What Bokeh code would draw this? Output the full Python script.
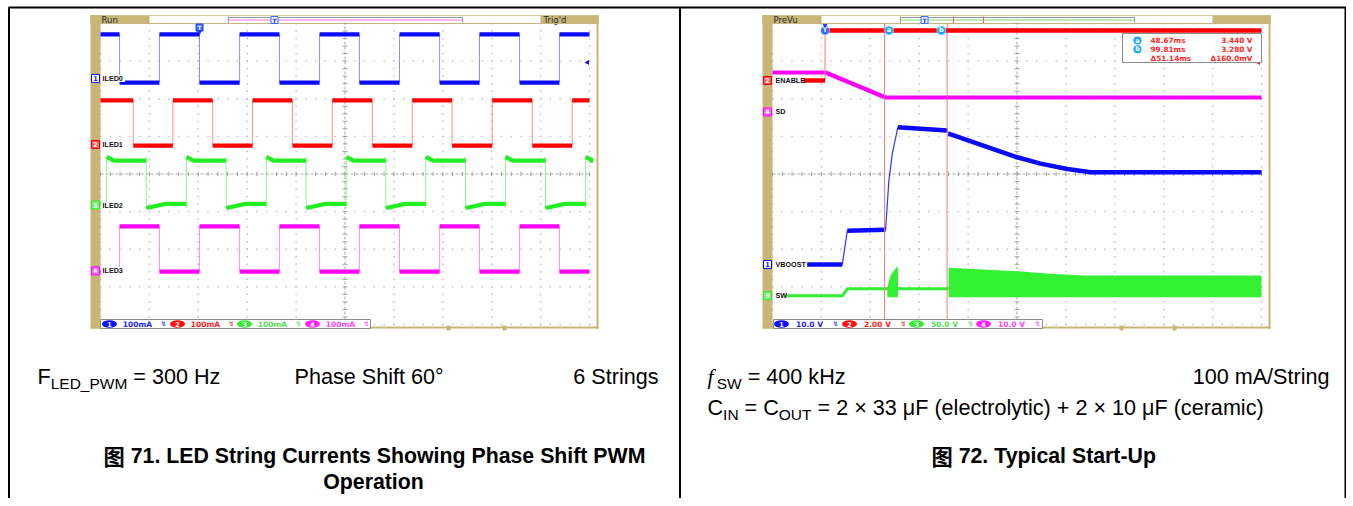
import math
from bokeh.plotting import figure
from bokeh.models import Range1d
from bokeh.embed import file_html
from bokeh.resources import INLINE
from bokeh.core.properties import value

# ===================== DATA =====================
# Fig. 71 - LED string currents, 2 ms/div, 100 mA/div, time in ms from left screen edge
t71_window = [0.0, 20.0]
iled_names = ["ILED0", "ILED1", "ILED2", "ILED3"]
iled0_edges = [0.78, 2.41, 4.05, 5.69, 7.32, 8.96, 10.59, 12.23, 13.87, 15.50, 17.14, 18.77]
iled1_edges = [1.34, 2.96, 4.59, 6.22, 7.85, 9.48, 11.12, 12.75, 14.38, 16.02, 17.66, 19.29]
iled2_edges = [0.25, 1.87, 3.51, 5.14, 6.78, 8.41, 10.05, 11.67, 13.30, 14.93, 16.56, 18.20, 19.84]
iled3_edges = [0.78, 2.41, 4.05, 5.69, 7.32, 8.96, 10.59, 12.23, 13.87, 15.50, 17.14, 18.77]
iled_edges = [iled0_edges, iled1_edges, iled2_edges, iled3_edges]
iled_starts_high = [True, True, False, False]
iled_high_ma = [117, 117, 118, 118]
iled_low_ma = [-11, -3, 3, -2]
iled_high_peak_ma = [117, 117, 128, 118]
iled_low_dip_ma = [-11, -3, -8, -2]
iled_high_settle_ms = [0.0, 0.0, 0.3, 0.0]
iled_low_settle_ms = [0.0, 0.0, 0.8, 0.0]
iled_offset_div = [2.54, 0.785, -0.824, -2.574]
iled_ma_per_div = [100, 100, 100, 100]
trigger71_ms = 4.05

# Fig. 72 - typical start-up, 40 ms/div, time in ms from trigger
t72_window = [-43.0, 357.0]
ch72_names = ["VBOOST", "ENABLE", "SW", "SD"]
ch72_volts_per_div = [10.0, 2.0, 50.0, 10.0]
ch72_offset_div = [-2.405, 2.485, -3.237, 1.648]
vboost_t = [-14.6, 14.1, 18.2, 49.5, 50.3, 52.2, 55.0, 59.6, 100.0, 101.0, 157.2, 176.3, 198.1, 217.2, 357.0]
vboost_v = [0.0, 0.0, 9.0, 9.2, 13.0, 22.3, 29.5, 36.5, 35.6, 34.8, 28.5, 26.8, 25.4, 24.5, 24.5]
enable_t = [-17.6, 0.0, 0.0, 357.0]
enable_v = [0.0, 0.0, 2.66, 2.66]
sw_t = [-32.3, 14.1, 18.2, 101.0]
sw_v = [0.0, 0.0, 9.3, 9.3]
sw_burst_t = [50.9, 53.6, 56.3, 59.6]
sw_burst_top = [11.4, 27.0, 33.6, 39.3]
sw_run_t = [101.0, 157.2, 184.4, 211.4, 357.0]
sw_run_top = [37.2, 32.7, 29.2, 27.0, 27.0]
sw_floor_v = -1.9
sd_t = [-43.0, 0.4, 49.5, 357.0]
sd_v = [10.5, 10.5, 3.85, 3.85]
cursor_ms = [48.67, 99.81]
cursor_v = [3.440, 3.280]

# captions
fig71_notes = ["Phase Shift 60°", "6 Strings"]
fig71_caption = ["图", " 71. LED String Currents Showing Phase Shift PWM", "Operation"]
fig72_notes = ["100 mA/String"]
fig72_caption = ["图", " 72. Typical Start-Up"]

# ===================== FIGURE =====================
W, H = 1346, 498
FX0, FX1, FY0, FY1 = 0, W, 0, H

p = figure(width=W, height=H, x_range=Range1d(FX0, FX1), y_range=Range1d(FY1, FY0),
           output_backend="svg", toolbar_location=None,
           x_axis_location=None, y_axis_location=None, min_border=0,
           outline_line_color=None, background_fill_color="white",
           border_fill_color="white")
p.xgrid.visible = False
p.ygrid.visible = False


def frame_range(g_lo, g_hi, v_lo, v_hi, f_lo, f_hi):
    k = (v_hi - v_lo) / (g_hi - g_lo)
    return Range1d(v_lo + (f_lo - g_lo) * k, v_lo + (f_hi - g_lo) * k)


SC = {"s71": dict(gx0=100, gx1=589, gy0=23, gy1=324),
      "s72": dict(gx0=772, gx1=1261, gy0=23, gy1=324)}
xr, yr = {}, {}
for nm, s in SC.items():
    xr[nm + "_dx"] = frame_range(s["gx0"], s["gx1"], 0, 10, FX0, FX1)
    yr[nm + "_dy"] = frame_range(s["gy1"], s["gy0"], -4, 4, FY1, FY0)
s1, s2 = SC["s71"], SC["s72"]
xr["t71"] = frame_range(s1["gx0"], s1["gx1"], t71_window[0], t71_window[1], FX0, FX1)
xr["t72"] = frame_range(s2["gx0"], s2["gx1"], t72_window[0], t72_window[1], FX0, FX1)
for i in range(4):
    off, k = iled_offset_div[i], iled_ma_per_div[i]
    yr[f"c71_{i}"] = frame_range(s1["gy1"], s1["gy0"], (-4 - off) * k, (4 - off) * k, FY1, FY0)
    off, k = ch72_offset_div[i], ch72_volts_per_div[i]
    yr[f"c72_{i}"] = frame_range(s2["gy1"], s2["gy0"], (-4 - off) * k, (4 - off) * k, FY1, FY0)
p.extra_x_ranges = xr
p.extra_y_ranges = yr


def rn(xn=None, yn=None):
    kw = {}
    if xn:
        kw["x_range_name"] = xn
    if yn:
        kw["y_range_name"] = yn
    return kw


def txt(x, y, s, size, color="black", align="left", baseline="middle",
        font="Liberation Sans", style="normal", xn=None, yn=None):
    p.text(x=[x], y=[y], text=[s], text_font=value(font), text_font_size=f"{size}px",
           text_font_style=style, text_color=color, text_align=align,
           text_baseline=baseline, **rn(xn, yn))


TAN = "#c9b676"
BLUE, RED, GREEN, MAG = "#0a0aff", "#ff0000", "#22ee22", "#ff00ff"
TRACE = [BLUE, RED, GREEN, MAG]
THIN = ["#8c8cff", "#ff8c8c", "#8cf58c", "#ff8cff"]
LIGHT = ["#2222ff", "#ff2222", "#55dd55", "#ff44ff"]

# ---------- outer table frame ----------
p.segment(x0=[8, 8.5, 679.5, W - 1], y0=[7, 7, 7, 7],
          x1=[W, 8.5, 679.5, W - 1], y1=[7, H, H, H],
          line_color="black", line_width=2)


# ---------- scope chrome ----------
def scope_chrome(nm, left_lab, right_lab, rec0, rec1, rec_color):
    s = SC[nm]
    gx0, gx1, gy0, gy1 = s["gx0"], s["gx1"], s["gy0"], s["gy1"]
    p.quad(left=gx0 - 10, right=gx1 + 9, top=15, bottom=23, fill_color="white",
           line_color="#d8cfa8", line_width=1)
    p.quad(left=[gx0 - 10, gx1 - 49], right=[gx0 + 49, gx1 + 9], top=15, bottom=23,
           fill_color=TAN, line_color=None)
    txt(gx0 + 1, 19.5, left_lab, 8.5, color="#2a2a2a", font="DejaVu Sans")
    txt(gx1 - 46, 19.5, right_lab, 8.5, color="#2a2a2a", font="DejaVu Sans")
    p.segment(x0=[rec0, rec0, rec1], y0=[17, 16, 16], x1=[rec1, rec0, rec1], y1=[17, 23, 23],
              line_color="#9a9a9a", line_width=1)
    p.segment(x0=[rec0], y0=[19.5], x1=[rec1], y1=[19.5], line_color=rec_color, line_width=1.5)
    p.quad(left=gx0 - 10, right=gx0, top=15, bottom=gy1 + 4, fill_color=TAN, line_color=None)
    p.quad(left=gx1 + 7, right=gx1 + 9, top=15, bottom=gy1 + 4, fill_color=TAN, line_color=None)
    p.quad(left=gx0 - 10, right=gx1 + 9, top=gy1 + 2, bottom=gy1 + 4, fill_color=TAN, line_color=None)
    p.segment(x0=[gx0], y0=[gy0], x1=[gx1 + 7], y1=[gy0], line_color=TAN, line_width=1)
    xs, ys = [], []
    for i in range(11):
        if i == 5:
            continue
        for j in range(41):
            xs.append(i)
            ys.append(-4 + j * 0.2)
    for j in range(9):
        if j == 4:
            continue
        for i in range(51):
            xs.append(i * 0.2)
            ys.append(j - 4)
    p.scatter(xs, ys, marker="square", size=1.4, fill_color="#b9b9b9", line_color=None,
              **rn(nm + "_dx", nm + "_dy"))
    p.segment(x0=[0, 5], y0=[0, -4], x1=[10, 5], y1=[0, 4], line_color="#a8a8a8",
              line_width=1, line_dash="3 2", **rn(nm + "_dx", nm + "_dy"))
    hx = [i * 0.2 for i in range(51)]
    vy = [-4 + j * 0.2 for j in range(41)]
    p.segment(x0=hx, y0=[-0.06] * len(hx), x1=hx, y1=[0.06] * len(hx), line_color="#a0a0a0",
              line_width=1, **rn(nm + "_dx", nm + "_dy"))
    p.segment(x0=[4.95] * len(vy), y0=vy, x1=[5.05] * len(vy), y1=vy, line_color="#a0a0a0",
              line_width=1, **rn(nm + "_dx", nm + "_dy"))


scope_chrome("s71", "Run", "Trig'd", 228, 462, "#f2a2f2")
scope_chrome("s72", "PreVu", "", 900, 1134, "#a6e6a6")
p.quad(left=[446, 502, 1119, 1172], right=[450, 506, 1123, 1176], top=325, bottom=330,
       fill_color=TAN, line_color=None)


def ch_marker(x, i, yn, name, lab_x):
    fills = ["#ffffff", "#ff5a5a", "#7cf07c", "#ff5cff"]
    tcol = [BLUE, "white", "white", "white"]
    lw = 4.6 * len(name)
    p.rect(x=[lab_x - 1 + lw / 2], y=[0], width=lw + 1, height=7, height_units="screen",
           fill_color="white", line_color=None, **rn(None, yn))
    p.scatter(x=[x], y=[0], marker="square", size=8, fill_color=fills[i], line_color=TRACE[i],
              line_width=1, **rn(None, yn))
    txt(x, 0, str(i + 1), 6.5, color=tcol[i], align="center",
        font="DejaVu Sans", style="bold", yn=yn)
    txt(lab_x, 0, name, 7.2, color="#111111", style="bold", yn=yn)


# ---------- Fig. 71 traces ----------
for i in range(4):
    edges = iled_edges[i]
    bounds = [t71_window[0]] + edges + [t71_window[1]]
    mxs, mys = [], []
    for j in range(len(bounds) - 1):
        a, b = bounds[j], bounds[j + 1]
        high = iled_starts_high[i] != (j % 2 == 1)
        lvl = iled_high_ma[i] if high else iled_low_ma[i]
        first = iled_high_peak_ma[i] if high else iled_low_dip_ma[i]
        st = iled_high_settle_ms[i] if high else iled_low_settle_ms[i]
        if j > 0 and st > 0:
            mxs.append([a, a + st, b])
            mys.append([first, lvl, lvl])
        else:
            mxs.append([a, b])
            mys.append([lvl, lvl])
    n = len(edges)
    p.segment(x0=edges, x1=edges, y0=[iled_low_dip_ma[i]] * n, y1=[iled_high_peak_ma[i]] * n,
              line_color=THIN[i], line_width=1, **rn("t71", f"c71_{i}"))
    p.multi_line(mxs, mys, line_color=TRACE[i], line_width=4.2, **rn("t71", f"c71_{i}"))
    ch_marker(95, i, f"c71_{i}", iled_names[i], 102)

p.scatter(x=[trigger71_ms], y=[27], marker="square", size=7, fill_color="#3a6cff",
          line_color="#1a3cff", **rn("t71"))
p.scatter(x=[trigger71_ms], y=[31.5], marker="inverted_triangle", size=5, fill_color="#1a3cff",
          line_color=None, **rn("t71"))
txt(trigger71_ms, 27, "T", 6, color="white", align="center",
    font="DejaVu Sans", style="bold", xn="t71")
p.scatter(x=[274], y=[19.5], marker="square", size=7, fill_color="#e8eeff", line_color="#3a6cff")
txt(274, 19.5, "T", 6, color="#1a3cff", align="center", font="DejaVu Sans", style="bold")
p.scatter(x=[587], y=[62], marker="triangle", angle=math.pi / 2, size=5, fill_color=BLUE,
          line_color=None)


# ---------- Fig. 72 traces ----------
def draw_trace(t, v, yn, vpd, color, thin, width):
    kx = 489.0 / (t72_window[1] - t72_window[0])
    ky = 37.625 / vpd
    p.line(t, v, line_color=thin, line_width=1.2, **rn("t72", yn))
    groups, cur = [], None
    for j in range(len(t) - 1):
        dx = abs(t[j + 1] - t[j]) * kx
        dy = abs(v[j + 1] - v[j]) * ky
        if dy <= 1.2 * dx + 1.0:
            if cur is None:
                cur = ([t[j]], [v[j]])
            cur[0].append(t[j + 1])
            cur[1].append(v[j + 1])
        else:
            if cur:
                groups.append(cur)
            cur = None
    if cur:
        groups.append(cur)
    p.multi_line([g[0] for g in groups], [g[1] for g in groups], line_color=color,
                 line_width=width, line_join="round", **rn("t72", yn))


p.varea(x=sw_burst_t, y1=[sw_floor_v] * len(sw_burst_t), y2=sw_burst_top, fill_color="#33f033",
        **rn("t72", "c72_2"))
p.varea(x=sw_run_t, y1=[sw_floor_v] * len(sw_run_t), y2=sw_run_top, fill_color="#33f033",
        **rn("t72", "c72_2"))
draw_trace(sw_t, sw_v, "c72_2", ch72_volts_per_div[2], "#33ee33", "#7cf07c", 3)
draw_trace(sd_t, sd_v, "c72_3", ch72_volts_per_div[3], MAG, "#ff8cff", 4.2)
draw_trace(vboost_t, vboost_v, "c72_0", ch72_volts_per_div[0], BLUE, "#3030ff", 4.5)
p.segment(x0=cursor_ms, x1=cursor_ms, y0=[-4, -4], y1=[4, 4], line_color="#f27c7c",
          line_width=1, **rn("t72", "s72_dy"))
draw_trace(enable_t, enable_v, "c72_1", ch72_volts_per_div[1], RED, "#ff8c8c", 4.5)

for i in range(4):
    ch_marker(767, i, f"c72_{i}", ch72_names[i], 775)

mk_t = [0.0, cursor_ms[0] + 3.6, cursor_ms[1] - 4.7]
p.scatter(x=mk_t, y=[enable_v[-1]] * 3, marker="circle", size=9,
          fill_color=["#2f6dff", "#1aa6ff", "#1aa6ff"], line_color="white", line_width=0.5,
          **rn("t72", "c72_1"))
p.text(x=mk_t, y=[enable_v[-1]] * 3, text=["T", "a", "b"], text_font=value("DejaVu Sans"),
       text_font_size="6.5px", text_font_style="bold", text_color="white", text_align="center",
       text_baseline="middle", **rn("t72", "c72_1"))
p.segment(x0=[953, 983], y0=[16, 16], x1=[953, 983], y1=[23, 23], line_color="#f06060",
          line_width=1)
p.scatter(x=[924], y=[19.5], marker="square", size=7, fill_color="#e8eeff", line_color="#3a6cff")
txt(924, 19.5, "T", 6, color="#1a3cff", align="center", font="DejaVu Sans", style="bold")
p.scatter(x=[0.0], y=[25], marker="inverted_triangle", size=5, fill_color="#1a3cff",
          line_color=None, **rn("t72"))
p.scatter(x=[1258], y=[62], marker="triangle", angle=math.pi / 2, size=5, fill_color=RED,
          line_color=None)

# cursor readout box
p.quad(left=1122, right=1261, top=33, bottom=62, fill_color="white", line_color="#8c8c8c",
       line_width=1)
dt = cursor_ms[1] - cursor_ms[0]
dv = (cursor_v[0] - cursor_v[1]) * 1000
rows = [("a", f"{cursor_ms[0]:.2f}ms", f"{cursor_v[0]:.3f} V"),
        ("b", f"{cursor_ms[1]:.2f}ms", f"{cursor_v[1]:.3f} V"),
        (None, f"Δ{dt:.2f}ms", f"Δ{dv:.1f}mV")]
for r, (ic, a, b) in enumerate(rows):
    yy = 40 + r * 8.8
    if ic:
        p.scatter(x=[1137], y=[yy], marker="circle", size=8, fill_color="#1aa6ff",
                  line_color=None)
        txt(1137, yy, ic, 6.5, color="white", align="center", font="DejaVu Sans", style="bold")
    txt(1150, yy, a, 7.3, color="#ff2a2a", font="DejaVu Sans", style="bold")
    txt(1252, yy, b, 7.3, color="#ff2a2a", align="right", font="DejaVu Sans", style="bold")


# ---------- bottom readout bars ----------
def readout(x0, x1, ovals, labels):
    p.quad(left=x0, right=x1, top=319, bottom=328, fill_color="white", line_color="#8c8c8c",
           line_width=1)
    fills = ["#1010ff", "#ff1010", "#33ee33", "#ff22ff"]
    p.ellipse(x=ovals, y=[323.5] * 4, width=15, height=7.5, fill_color=fills, line_color=None)
    for i in range(4):
        txt(ovals[i], 323.7, str(i + 1), 6.5, color="white", align="center",
            font="DejaVu Sans", style="bold")
        txt(ovals[i] + 28, 323.7, labels[i], 7.5, color=LIGHT[i], align="center",
            font="DejaVu Sans", style="bold")
        txt(ovals[i] + 54, 323.7, "↯", 7, color=LIGHT[i], align="center", font="DejaVu Sans")


readout(100, 370, [109, 177, 244, 312], [f"{k}mA" for k in iled_ma_per_div])
readout(773, 1042, [781, 849, 916, 983], [f"{v:#.3g} V" for v in ch72_volts_per_div])

# ---------- captions ----------
REG = {" ": 278, "=": 584, "×": 584, "μ": 576, "(": 333, ")": 333, "+": 584, "/": 278,
       "°": 400, "_": 556, "-": 333, ".": 278, "A": 667, "C": 722, "D": 722, "E": 667,
       "F": 611, "H": 722, "I": 278, "L": 556, "M": 833, "N": 722, "O": 778, "P": 667,
       "S": 667, "T": 611, "U": 722, "W": 944, "a": 556, "c": 500, "e": 556, "f": 278,
       "g": 556, "h": 556, "i": 222, "k": 500, "l": 222, "m": 833, "n": 556, "o": 556,
       "r": 333, "s": 500, "t": 278, "y": 500, "z": 500}
BOLD = {" ": 278, ".": 278, "-": 333, "A": 722, "C": 722, "D": 722, "E": 667, "L": 611,
        "M": 833, "O": 778, "P": 667, "S": 667, "T": 611, "U": 722, "W": 944, "a": 556,
        "c": 556, "g": 611, "h": 611, "i": 278, "l": 278, "n": 611, "o": 611, "p": 611,
        "r": 389, "s": 556, "t": 333, "u": 611, "w": 778, "y": 556, "f": 333}


def tw(s, size, bold=False):
    tab = BOLD if bold else REG
    w = 0
    for c in s:
        if ord(c) > 0x2E80:
            w += 1000
        elif c.isdigit():
            w += 556
        else:
            w += tab.get(c, 556)
    return w / 1000.0 * size


FS, SS, CB = 21.6, 15.5, 21.3


def put(x, y, s, size, font="Liberation Sans", style="normal"):
    """place text at x; leading spaces become an x offset (SVG drops them)"""
    lead = len(s) - len(s.lstrip(" "))
    x0 = x + tw(" " * lead, size, style == "bold")
    txt(x0, y, s.lstrip(" "), size, font=font, style=style)
    return x + tw(s, size, style == "bold") + (0.15 * size if style == "italic" else 0)


def run(parts, x, cy):
    for s, size, dy, font, style in parts:
        x = put(x, cy + dy, s, size, font, style)
    return x


LS = "Liberation Sans"
L1, L2, C1, C2 = 376, 407, 455, 481
run([("F", FS, 0, LS, "normal"), ("LED_PWM", SS, 7, LS, "normal"),
     (" = 300 Hz", FS, 0, LS, "normal")], 37, L1)
txt(294, L1, fig71_notes[0], FS)
txt(658, L1, fig71_notes[1], FS, align="right")
cap_w = tw(fig71_caption[0], CB, True) + tw(fig71_caption[1], CB, True)
cx = 374 - cap_w / 2
put(cx, C1, fig71_caption[0], CB, font="Noto Sans CJK SC", style="bold")
put(cx + tw(fig71_caption[0], CB, True), C1, fig71_caption[1], CB, style="bold")
txt(373, C2, fig71_caption[2], CB, align="center", style="bold")

run([("f", FS, 0, "Liberation Serif", "italic"), ("SW", SS, 7, LS, "normal"),
     (" = 400 kHz", FS, 0, LS, "normal")], 707, L1)
txt(1329, L1, fig72_notes[0], FS, align="right")
run([("C", FS, 0, LS, "normal"), ("IN", SS, 7, LS, "normal"), (" = C", FS, 0, LS, "normal"),
     ("OUT", SS, 7, LS, "normal"),
     (" = 2 × 33 μF (electrolytic) + 2 × 10 μF (ceramic)", FS, 0, LS, "normal")], 707, L2)
cap_w = tw(fig72_caption[0], CB, True) + tw(fig72_caption[1], CB, True)
cx = 1044 - cap_w / 2
put(cx, C1, fig72_caption[0], CB, font="Noto Sans CJK SC", style="bold")
put(cx + tw(fig72_caption[0], CB, True), C1, fig72_caption[1], CB, style="bold")

open("out.html", "w").write(file_html(p, INLINE))
